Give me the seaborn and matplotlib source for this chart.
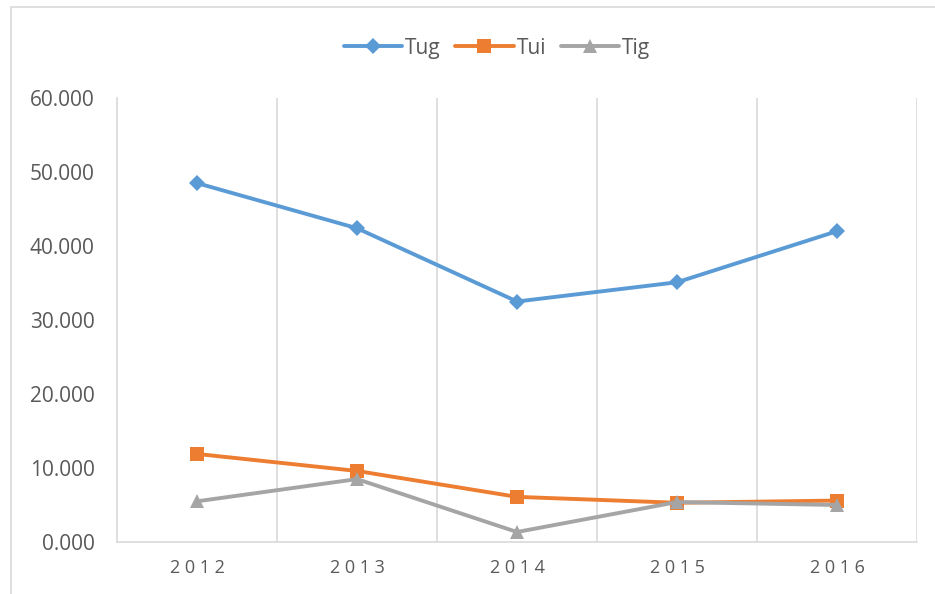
import matplotlib
matplotlib.use("Agg")
import matplotlib.pyplot as plt
import seaborn as sns
import pandas as pd
from matplotlib.patches import Rectangle

years = ["2012", "2013", "2014", "2015", "2016"]
tug = [48.5, 42.4, 32.5, 35.1, 42.0]
tui = [11.9, 9.6, 6.1, 5.3, 5.6]
tig = [5.5, 8.5, 1.35, 5.4, 5.0]
y_ticks = [0, 10, 20, 30, 40, 50, 60]

df = pd.DataFrame({
    "year": years * 3,
    "value": tug + tui + tig,
    "series": ["Tug"] * 5 + ["Tui"] * 5 + ["Tig"] * 5,
})

sns.set_style("white")
plt.rcParams["font.family"] = ["Open Sans", "DejaVu Sans"]

fig = plt.figure(figsize=(9.35, 5.94), dpi=100)
ax = fig.add_axes([117 / 935, 1 - 542 / 594, 800 / 935, 444 / 594])

palette = {"Tug": "#5b9bd5", "Tui": "#ed7d31", "Tig": "#a5a5a5"}
markers = {"Tug": "D", "Tui": "s", "Tig": "^"}
sizes = {"Tug": 8, "Tui": 10, "Tig": 10}
for name in ["Tug", "Tui", "Tig"]:
    sub = df[df["series"] == name]
    sns.lineplot(data=sub, x="year", y="value", ax=ax, color=palette[name],
                 marker=markers[name], markersize=sizes[name], linewidth=2.8,
                 markeredgewidth=0, label=name, sort=False)

ax.set_xlim(-0.5, 4.5)
ax.set_ylim(0, 60)
ax.set_yticks(y_ticks)
ax.set_yticklabels([f"{v:.3f}" for v in y_ticks])
ax.set_xlabel("")
ax.set_ylabel("")
for xb in [0.5, 1.5, 2.5, 3.5, 4.5]:
    ax.axvline(xb, color="#d9d9d9", linewidth=1.2, zorder=0)
for s in ["top", "right"]:
    ax.spines[s].set_visible(False)
ax.spines["left"].set_color("#d9d9d9")
ax.spines["bottom"].set_color("#d9d9d9")
ax.spines["left"].set_linewidth(1.2)
ax.spines["bottom"].set_linewidth(1.2)
ax.tick_params(axis="y", length=0, pad=16, labelsize=15, labelcolor="#595959")
ax.tick_params(axis="x", length=0, pad=12, labelsize=13, labelcolor="#595959")
ax.set_xticks(range(5))
ax.set_xticklabels([" ".join(y) for y in years])

leg = ax.legend(loc="upper center", bbox_to_anchor=(0.475, 1.178), ncol=3,
                frameon=False, fontsize=15, handlelength=2.8, columnspacing=0.7,
                handletextpad=0.15)
for t in leg.get_texts():
    t.set_color("#595959")

fig.patches.append(Rectangle((11 / 935, -0.1), 1.2, 1 - 7 / 594 + 0.1,
                             transform=fig.transFigure, fill=False,
                             edgecolor="#d9d9d9", linewidth=1.2))

fig.savefig("out.png", dpi=100)
